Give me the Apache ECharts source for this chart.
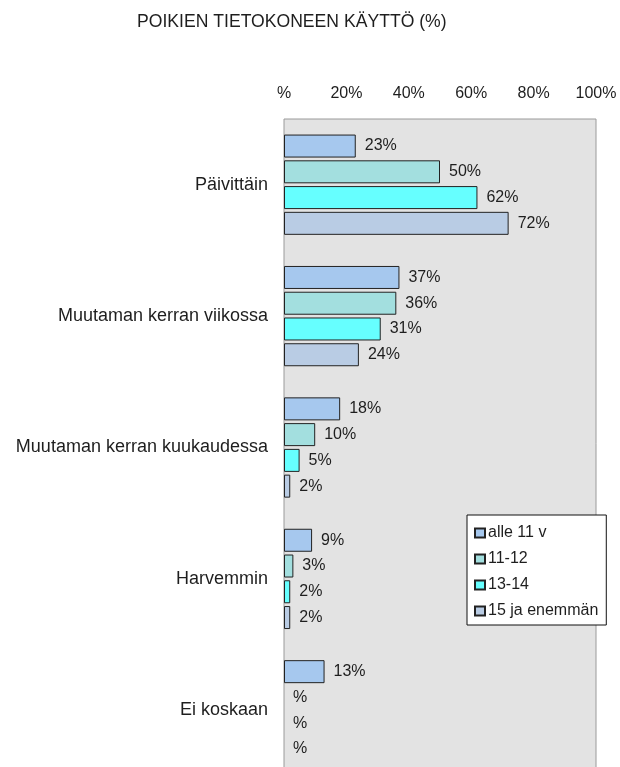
<!DOCTYPE html>
<html>
<head>
<meta charset="utf-8">
<script src="https://cdn.jsdelivr.net/npm/echarts@6/dist/echarts.min.js"></script>
<style>
  html, body { margin: 0; padding: 0; background: #fff; }
  #chart { width: 620px; height: 767px; }
</style>
</head>
<body>
<div id="chart"></div>
<script>
const categories = ['Päivittäin', 'Muutaman kerran viikossa', 'Muutaman kerran kuukaudessa', 'Harvemmin', 'Ei koskaan']
const seriesNames = ['alle 11 v', '11-12', '13-14', '15 ja enemmän']
const alle11 = [23, 37, 18, 9, 13]
const age11to12 = [50, 36, 10, 3, 0]
const age13to14 = [62, 31, 5, 2, 0]
const age15plus = [72, 24, 2, 2, 0]
const xTicks = [0, 20, 40, 60, 80, 100]

const colors = ['#a6c8ee', '#a3dfdf', '#66ffff', '#b9cce4']
const font = 'Liberation Sans, Arial, sans-serif'
const textColor = '#1e1e1e'

const chart = echarts.init(document.getElementById('chart'))

const makeSeries = (name, values, index) => ({
  name: name,
  type: 'bar',
  barWidth: 23,
  barGap: '12%',
  // nollapalkeille ei reunaviivaa
  data: values.map(v => v === 0 ? { value: 0, itemStyle: { borderWidth: 0 } } : v),
  itemStyle: {
    color: colors[index],
    borderColor: '#222',
    borderWidth: 1
  },
  label: {
    show: true,
    position: 'right',
    distance: 9,
    color: textColor,
    fontFamily: font,
    fontSize: 16,
    formatter: p => (p.value ? p.value : '') + '%'
  },
  silent: true,
  animation: false
})

const option = {
  title: {
    text: 'POIKIEN TIETOKONEEN KÄYTTÖ (%)',
    left: 132,
    top: 8,
    textStyle: {
      color: textColor,
      fontFamily: font,
      fontSize: 17.6,
      fontWeight: 'normal'
    }
  },
  legend: {
    orient: 'vertical',
    left: 467,
    top: 515,
    data: seriesNames,
    backgroundColor: '#fff',
    borderColor: '#111',
    borderWidth: 1,
    padding: [10, 8, 6, 7],
    itemWidth: 10,
    itemHeight: 9,
    itemGap: 10,
    icon: 'rect',
    textStyle: {
      color: textColor,
      fontFamily: font,
      fontSize: 16,
      lineHeight: 16,
      padding: [0, 0, 0, -2]
    }
  },
  grid: {
    left: 284,
    top: 119,
    width: 312,
    height: 657,
    outerBoundsMode: 'none',
    show: true,
    backgroundColor: '#e3e3e3',
    borderColor: '#9a9a9a',
    borderWidth: 1,
    containLabel: false
  },
  xAxis: {
    type: 'value',
    position: 'top',
    min: xTicks[0],
    max: xTicks[xTicks.length - 1],
    interval: 20,
    axisLine: { show: false },
    axisTick: { show: false },
    splitLine: { show: false },
    axisLabel: {
      margin: 17,
      color: textColor,
      fontFamily: font,
      fontSize: 16,
      formatter: v => (v === 0 ? '' : v) + '%'
    }
  },
  yAxis: {
    type: 'category',
    inverse: true,
    data: categories,
    axisLine: { show: false },
    axisTick: { show: false },
    axisLabel: {
      margin: 16,
      color: textColor,
      fontFamily: font,
      fontSize: 18
    }
  },
  series: [
    makeSeries(seriesNames[0], alle11, 0),
    makeSeries(seriesNames[1], age11to12, 1),
    makeSeries(seriesNames[2], age13to14, 2),
    makeSeries(seriesNames[3], age15plus, 3)
  ]
}

chart.setOption(option)
</script>
</body>
</html>
